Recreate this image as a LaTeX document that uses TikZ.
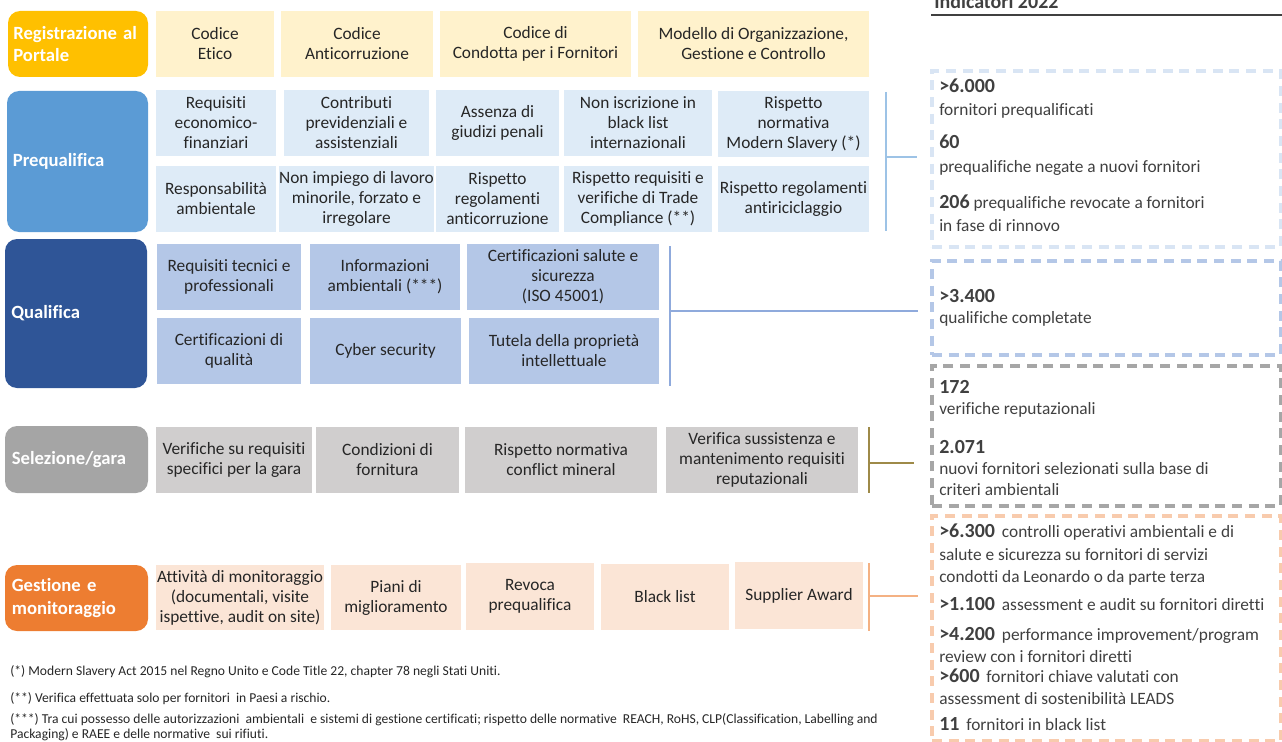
\documentclass[tikz,border=0pt]{standalone}
\usepackage{fontspec}
\setmainfont{Carlito}[Ligatures=NoCommon]
\usetikzlibrary{fit}

\definecolor{regcol}{HTML}{FFC000}
\definecolor{pqcol}{HTML}{5B9BD5}
\definecolor{qcol}{HTML}{2F5597}
\definecolor{selcol}{HTML}{A5A5A5}
\definecolor{gmcol}{HTML}{ED7D31}
\definecolor{regfill}{HTML}{FFF2CC}
\definecolor{pqfill}{HTML}{DEEBF7}
\definecolor{qfill}{HTML}{B4C7E7}
\definecolor{selfill}{HTML}{D0CECE}
\definecolor{gmfill}{HTML}{FBE5D6}
\definecolor{pqline}{HTML}{9DC3E6}
\definecolor{qline}{HTML}{8FAADC}
\definecolor{selline}{HTML}{9E8A48}
\definecolor{gmline}{HTML}{F4B183}
\definecolor{pqdash}{HTML}{D9E5F4}
\definecolor{qdash}{HTML}{B4C7E7}
\definecolor{seldash}{HTML}{A6A6A6}
\definecolor{gmdash}{HTML}{F8CBAD}
\definecolor{txtcol}{HTML}{262626}
\definecolor{indcol}{HTML}{404040}
\definecolor{hdrcol}{HTML}{404040}

\newcommand\indnum[1]{{\fontsize{15}{17}\selectfont\bfseries #1}}

\tikzset{
  sz/.style 2 args={minimum width=#1*0.75pt, minimum height=#2*0.75pt},
  phase/.style={fill=#1, rounded corners=9pt, inner sep=0pt, text=white, text width=97pt, align=left, font=\fontsize{14}{17}\selectfont\bfseries},
  cell/.style={fill=#1, inner sep=0pt, align=center, text=txtcol, font=\fontsize{13}{15}\selectfont},
  indbox/.style={draw=#1, line width=2.5pt, dash pattern=on 7.5pt off 5pt, inner sep=0pt},
  brk/.style={draw=#1, line width=1pt},
  ind/.style={anchor=base west, inner sep=0pt, text=indcol, font=\fontsize{13}{15}\selectfont},
  fnote/.style={anchor=base west, inner sep=0pt, text=txtcol, font=\fontsize{10.2}{12}\selectfont},
}

\begin{document}
\begin{tikzpicture}[x=0.75pt,y=-0.75pt]
\useasboundingbox (0,0) rectangle (1282,742);

\node[phase=regcol, sz={140}{66}] (reg) at (78,44) {Registrazione al\\Portale};
\node[cell=regfill, sz={118}{66}] (reg1) at (215,44) {Codice\\Etico};
\node[cell=regfill, sz={152}{66}] (reg2) at (357,44) {Codice\\Anticorruzione};
\node[cell=regfill, sz={191}{66}] (reg3) at (535.5,44) {Codice di\\Condotta per i Fornitori};
\node[cell=regfill, sz={231}{66}] (reg4) at (753.5,44) {Modello di Organizzazione,\\Gestione e Controllo};

\node[phase=pqcol, sz={141}{141}] (pq) at (77.5,161.5) {Prequalifica};
\node[cell=pqfill, sz={120}{66}] (pq1) at (216,123) {Requisiti\\economico-\\finanziari};
\node[cell=pqfill, sz={145}{66}] (pq2) at (356.5,123) {Contributi\\previdenziali e\\assistenziali};
\node[cell=pqfill, sz={123}{66}] (pq3) at (497.5,123) {Assenza di\\giudizi penali};
\node[cell=pqfill, sz={148}{66}] (pq4) at (638,123) {Non iscrizione in\\black list\\internazionali};
\node[cell=pqfill, sz={151}{66}] (pq5) at (793.5,124) {Rispetto\\normativa\\Modern Slavery (*)};
\node[cell=pqfill, sz={120}{66}] (pq6) at (216,199) {Responsabilità\\ambientale};
\node[cell=pqfill, sz={145}{66}] (pq7) at (356.5,199) {Non impiego di lavoro\\minorile, forzato e\\irregolare};
\node[cell=pqfill, sz={123}{66}] (pq8) at (497.5,199) {Rispetto\\regolamenti\\anticorruzione};
\node[cell=pqfill, sz={148}{66}] (pq9) at (638,199) {Rispetto requisiti e\\verifiche di Trade\\Compliance (**)};
\node[cell=pqfill, sz={151}{66}] (pq10) at (793.5,199) {Rispetto regolamenti\\antiriciclaggio};

\node[phase=qcol, sz={142}{149}] (q) at (76,313.5) {Qualifica};
\node[cell=qfill, sz={144}{66}] (q1) at (229,277) {Requisiti tecnici e\\professionali};
\node[cell=qfill, sz={150}{66}] (q2) at (385,277) {Informazioni\\ambientali (***)};
\node[cell=qfill, sz={192}{66}] (q3) at (563,277) {Certificazioni salute e\\sicurezza\\(ISO 45001)};
\node[cell=qfill, sz={144}{66}] (q4) at (229,351) {Certificazioni di\\qualità};
\node[cell=qfill, sz={151}{66}] (q5) at (385.5,351) {Cyber security};
\node[cell=qfill, sz={190}{66}] (q6) at (564,351) {Tutela della proprietà\\intellettuale};

\node[phase=selcol, sz={143}{67}] (sel) at (76.5,459.5) {Selezione/gara};
\node[cell=selfill, sz={156}{66}] (sel1) at (234,460) {Verifiche su requisiti\\specifici per la gara};
\node[cell=selfill, sz={143}{66}] (sel2) at (387.5,460) {Condizioni di\\fornitura};
\node[cell=selfill, sz={192}{66}] (sel3) at (561,460) {Rispetto normativa\\conflict mineral};
\node[cell=selfill, sz={192}{66}] (sel4) at (762,460) {Verifica sussistenza e\\mantenimento requisiti\\reputazionali};

\node[phase=gmcol, sz={143}{66}] (gm) at (76.5,598) {Gestione e\\monitoraggio};
\node[cell=gmfill, sz={168}{65}] (gm1) at (240,597.5) {Attività di monitoraggio\\(documentali, visite\\ispettive, audit on site)};
\node[cell=gmfill, sz={130}{65}] (gm2) at (396,597.5) {Piani di\\miglioramento};
\node[cell=gmfill, sz={128}{67}] (gm3) at (530,596.5) {Revoca\\prequalifica};
\node[cell=gmfill, sz={128}{66}] (gm4) at (665,597) {Black list};
\node[cell=gmfill, sz={128}{67}] (gm5) at (799,595.5) {Supplier Award};

\node[anchor=base west, inner sep=0pt, text=hdrcol, font=\fontsize{15}{17}\selectfont\bfseries] (hdr) at (934,9) {Indicatori 2022};
\coordinate (hdrl) at (931,15);
\coordinate (hdrr) at (1282,15);
\draw[hdrcol, line width=1.2pt] (hdrl) -- (hdrr);

\node[indbox=pqdash, fit={(932,71) (1281,247)}] (indpq) {};
\node[indbox=qdash, fit={(932,261) (1281,355)}] (indq) {};
\node[indbox=seldash, fit={(932,366) (1281,506)}] (indsel) {};
\node[indbox=gmdash, fit={(932,516) (1281,741)}] (indgm) {};

\coordinate (pqtop) at (886,92);
\coordinate (pqbot) at (886,231);
\coordinate (pqmid) at (886,157);
\coordinate (pqend) at (917,157);
\draw[brk=pqline] (pqtop) -- (pqbot);
\draw[brk=pqline] (pqmid) -- (pqend);

\coordinate (qtop) at (670,246);
\coordinate (qbot) at (670,386);
\coordinate (qmid) at (670,311);
\coordinate (qend) at (918,311);
\draw[brk=qline] (qtop) -- (qbot);
\draw[brk=qline] (qmid) -- (qend);

\coordinate (seltop) at (869,427);
\coordinate (selbot) at (869,493);
\coordinate (selmid) at (869,463);
\coordinate (selend) at (914,463);
\draw[brk=selline] (seltop) -- (selbot);
\draw[brk=selline] (selmid) -- (selend);

\coordinate (gmtop) at (869,563);
\coordinate (gmbot) at (869,631);
\coordinate (gmmid) at (869,596);
\coordinate (gmend) at (918,596);
\draw[brk=gmline] (gmtop) -- (gmbot);
\draw[brk=gmline] (gmmid) -- (gmend);

\node[ind] (t1) at (939,93) {\indnum{>6.000}};
\node[ind] (t2) at (939,115) {fornitori prequalificati};
\node[ind] (t3) at (939,148) {\indnum{60}};
\node[ind] (t4) at (939,172) {prequalifiche negate a nuovi fornitori};
\node[ind] (t5) at (939,208) {\indnum{206} prequalifiche revocate a fornitori};
\node[ind] (t6) at (939,231) {in fase di rinnovo};

\node[ind] (t7) at (939,302) {\indnum{>3.400}};
\node[ind] (t8) at (939,323) {qualifiche completate};

\node[ind] (t9) at (939,393) {\indnum{172}};
\node[ind] (t10) at (939,414) {verifiche reputazionali};
\node[ind] (t11) at (939,453) {\indnum{2.071}};
\node[ind] (t12) at (939,474) {nuovi fornitori selezionati sulla base di};
\node[ind] (t13) at (939,495) {criteri ambientali};

\node[ind] (t14) at (939,537) {\indnum{>6.300} \,controlli operativi ambientali e di};
\node[ind] (t15) at (939,560) {salute e sicurezza su fornitori di servizi};
\node[ind] (t16) at (939,582) {condotti da Leonardo o da parte terza};
\node[ind] (t17) at (939,610) {\indnum{>1.100} \,assessment e audit su fornitori diretti};
\node[ind] (t18) at (939,640) {\indnum{>4.200} \,performance improvement/program};
\node[ind] (t19) at (939,662) {review con i fornitori diretti};
\node[ind] (t20) at (939,682) {\indnum{>600} \,fornitori chiave valutati con};
\node[ind] (t21) at (939,704) {assessment di sostenibilità LEADS};
\node[ind] (t22) at (939,730) {\indnum{11} \,fornitori in black list};

\node[fnote] (fn1) at (10,675) {(*) Modern Slavery Act 2015 nel Regno Unito e Code Title 22, chapter 78 negli Stati Uniti.};
\node[fnote] (fn2) at (10,702) {(**) Verifica effettuata solo per fornitori \ in Paesi a rischio.};
\node[fnote] (fn3) at (10,723) {(***) Tra cui possesso delle autorizzazioni \ ambientali \ e sistemi di gestione certificati; rispetto delle normative \ REACH, RoHS, CLP(Classification, Labelling and};
\node[fnote] (fn4) at (10,738) {Packaging) e RAEE e delle normative \ sui rifiuti.};
\end{tikzpicture}
\end{document}
